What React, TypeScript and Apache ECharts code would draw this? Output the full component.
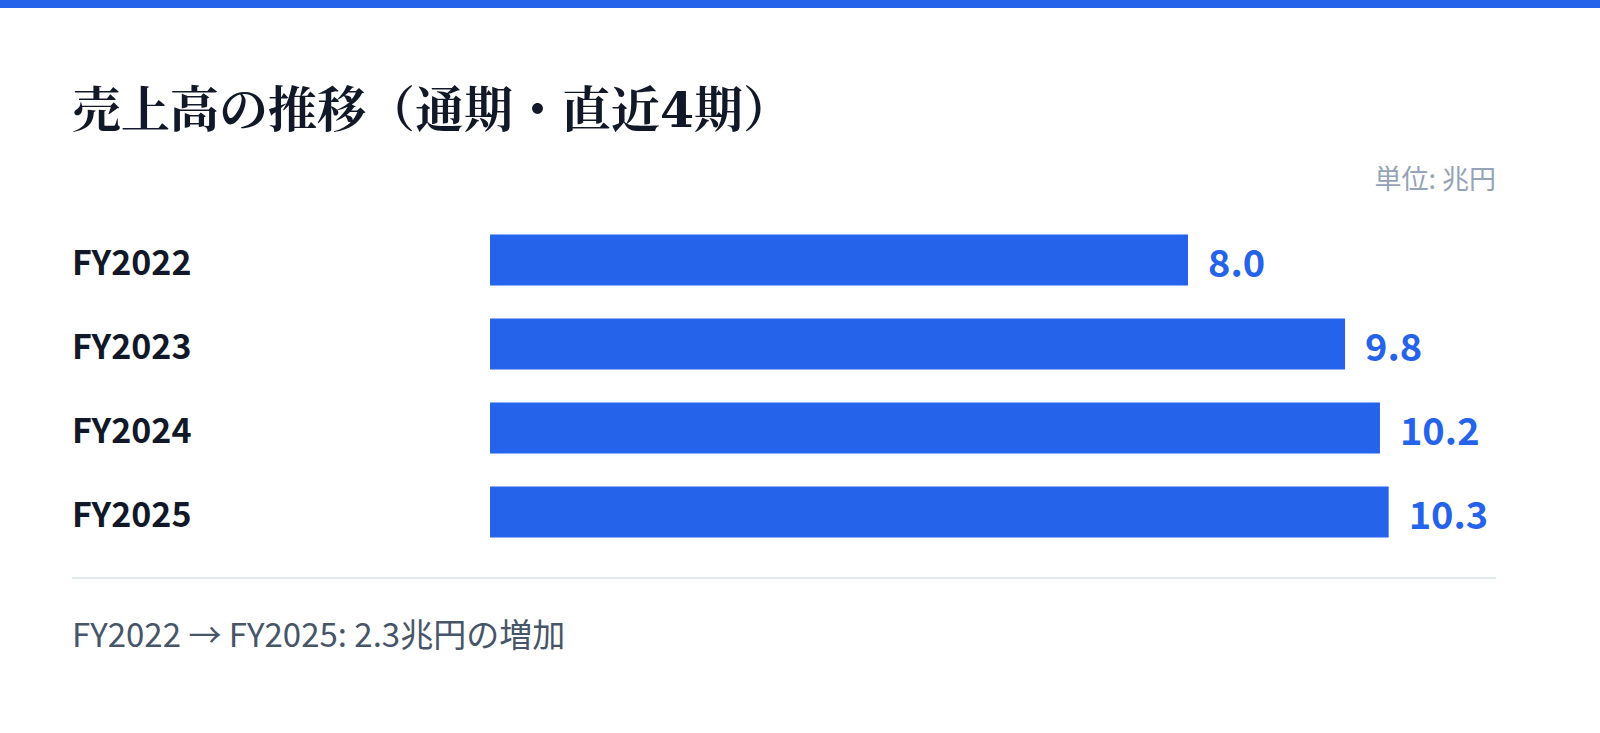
import { useEffect, useRef } from 'react';
import * as echarts from 'echarts';

const BLUE = '#2563eb';
const SANS = "'Noto Sans CJK JP', 'Noto Sans', sans-serif";
const SERIF = "'DejaVu Serif', 'Noto Serif CJK JP', serif";

// data
const years = ['FY2022', 'FY2023', 'FY2024', 'FY2025'];
const sales = [8.0, 9.8, 10.2, 10.3];

const TITLE = '売上高の推移（通期・直近4期）';
const UNIT = '単位: 兆円';
const FOOTNOTE = 'FY2022 → FY2025: 2.3兆円の増加';

export default function App() {
  const ref = useRef<HTMLDivElement | null>(null);

  useEffect(() => {
    if (!ref.current) return;
    const chart = echarts.init(ref.current, undefined, { renderer: 'svg' });

    chart.setOption({
      animation: false,
      backgroundColor: '#ffffff',
      grid: { left: 490, right: 63, top: 218, bottom: 179 },
      xAxis: {
        type: 'value',
        min: 0,
        max: 12,
        show: false,
      },
      yAxis: {
        type: 'category',
        data: years,
        inverse: true,
        axisLine: { show: false },
        axisTick: { show: false },
        axisLabel: {
          align: 'left',
          margin: 418,
          color: '#111827',
          fontSize: 34,
          fontWeight: 'bold',
          fontFamily: SANS,
          padding: [6, 0, 0, 0],
        },
      },
      series: [
        {
          type: 'bar',
          data: sales,
          barWidth: 51,
          itemStyle: { color: BLUE },
          label: {
            show: true,
            position: 'right',
            distance: 20,
            color: BLUE,
            fontSize: 38,
            fontWeight: 'bold',
            fontFamily: SANS,
            padding: [6, 0, 0, 0],
            formatter: (p: any) => Number(p.value).toFixed(1),
          },
        },
      ],
      graphic: [
        { type: 'rect', shape: { x: 0, y: 0, width: 1600, height: 8 }, style: { fill: BLUE } },
        {
          type: 'text',
          left: 72,
          top: 85,
          style: {
            text: TITLE,
            fill: '#111827',
            fontSize: 49,
            fontWeight: 'bold',
            fontFamily: SERIF,
          },
        },
        {
          type: 'text',
          right: 104,
          top: 164,
          style: {
            text: UNIT,
            fill: '#94a3b8',
            fontSize: 27,
            fontFamily: SANS,
          },
        },
        {
          type: 'line',
          shape: { x1: 72, y1: 578, x2: 1496, y2: 578 },
          style: { stroke: '#e2e8f0', lineWidth: 2 },
        },
        {
          type: 'text',
          left: 72,
          top: 616,
          style: {
            text: FOOTNOTE,
            fill: '#475569',
            fontSize: 33,
            fontFamily: SANS,
          },
        },
      ],
    });

    return () => chart.dispose();
  }, []);

  return (
    <div
      ref={ref}
      style={{ position: 'fixed', left: 0, top: 0, width: 1600, height: 733 }}
    />
  );
}
